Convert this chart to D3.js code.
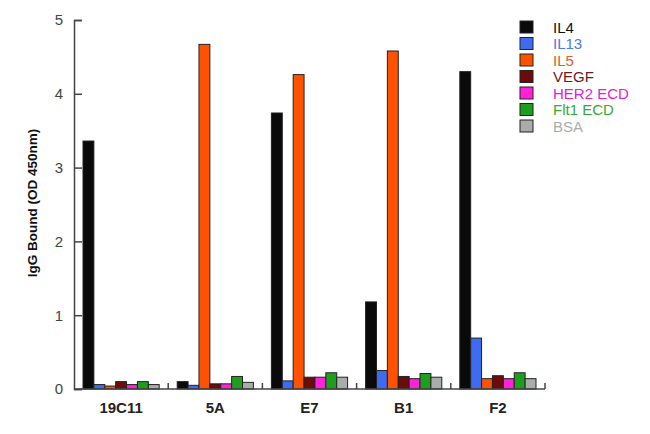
<!DOCTYPE html>
<html>
<head>
<meta charset="utf-8">
<script src="https://cdn.jsdelivr.net/npm/d3@7"></script>
<style>
  body { margin: 0; background: #fff; }
  svg { font-family: Arial, "Liberation Sans", sans-serif; }
</style>
</head>
<body>
<div id="container"></div>
<script>
const clones = ["19C11", "5A", "E7", "B1", "F2"];
const antigens = ["IL4", "IL13", "IL5", "VEGF", "HER2 ECD", "Flt1 ECD", "BSA"];
const barColors = ["#0a0a0a", "#3d6cf0", "#ff5200", "#6e0a0a", "#ff22d8", "#1e9e1e", "#a8acac"];
const textColors = ["#111111", "#4a7ee0", "#d0652a", "#6e1a1a", "#e022d6", "#36a836", "#a9adad"];
const yTicks = [0, 1, 2, 3, 4, 5];

// OD 450nm per clone, one array per antigen
const il4 = [3.36, 0.10, 3.74, 1.18, 4.30];
const il13 = [0.06, 0.05, 0.11, 0.25, 0.69];
const il5 = [0.04, 4.67, 4.26, 4.58, 0.14];
const vegf = [0.10, 0.07, 0.16, 0.17, 0.18];
const her2 = [0.06, 0.07, 0.16, 0.14, 0.14];
const flt1 = [0.10, 0.17, 0.22, 0.21, 0.22];
const bsa = [0.06, 0.09, 0.16, 0.16, 0.14];
const series = [il4, il13, il5, vegf, her2, flt1, bsa];

const margin = { top: 20, left: 74 };
const width = 650;
const height = 434;
const innerW = 545 - margin.left;
const innerH = 389 - margin.top;

const svg = d3
  .select("#container")
  .append("svg")
  .attr("width", width)
  .attr("height", height);

const g = svg.append("g").attr("transform", `translate(${margin.left},${margin.top})`);

const x0 = d3.scaleBand().domain(clones).range([0, innerW]).padding(0);
const x1 = d3.scaleBand().domain(antigens).range([9, x0.bandwidth() - 9]).padding(0);
const y = d3.scaleLinear().domain([0, 5]).range([innerH, 0]);

const rows = clones.map((c, i) => ({
  clone: c,
  values: antigens.map((a, j) => ({ key: a, j, value: series[j][i] })),
}));

g.selectAll("g.group")
  .data(rows)
  .join("g")
  .attr("class", "group")
  .attr("transform", (d) => `translate(${x0(d.clone)},0)`)
  .selectAll("rect")
  .data((d) => d.values)
  .join("rect")
  .attr("x", (d) => x1(d.key))
  .attr("y", (d) => y(d.value))
  .attr("width", x1.bandwidth())
  .attr("height", (d) => innerH - y(d.value))
  .attr("fill", (d) => barColors[d.j])
  .attr("stroke", "#222")
  .attr("stroke-width", 1);

// y axis with inward ticks
const yAxis = g.append("g")
  .call(d3.axisLeft(y).tickValues(yTicks).tickSize(-8).tickPadding(11).tickFormat(d3.format("d")));
yAxis.select(".domain").attr("stroke", "#444").attr("stroke-width", 1.5);
yAxis.selectAll(".tick line").attr("stroke", "#444").attr("stroke-width", 1.5);
yAxis.selectAll(".tick text").attr("font-size", 15).attr("fill", "#444").attr("font-family", "Arial, sans-serif");

// x axis baseline with upward separator ticks
const xAxis = g.append("g").attr("transform", `translate(0,${innerH})`);
xAxis.append("line").attr("x1", 0).attr("x2", innerW).attr("stroke", "#444").attr("stroke-width", 1.5);
xAxis.selectAll("line.sep")
  .data(clones.slice(1).concat(["end"]))
  .join("line")
  .attr("class", "sep")
  .attr("x1", (d, i) => x0.step() * (i + 1))
  .attr("x2", (d, i) => x0.step() * (i + 1))
  .attr("y1", 0)
  .attr("y2", -6)
  .attr("stroke", "#444")
  .attr("stroke-width", 1.5);
xAxis.selectAll("text")
  .data(clones)
  .join("text")
  .attr("x", (d) => x0(d) + x0.bandwidth() / 2)
  .attr("y", 24)
  .attr("text-anchor", "middle")
  .attr("font-size", 15)
  .attr("font-weight", "bold")
  .attr("fill", "#222")
  .text((d) => d);

svg.append("text")
  .attr("transform", `translate(37,203) rotate(-90)`)
  .attr("text-anchor", "middle")
  .attr("font-size", 13.5)
  .attr("font-weight", "bold")
  .attr("fill", "#111")
  .text("IgG Bound (OD 450nm)");

// legend
const legend = svg.append("g").attr("transform", "translate(520,21)");
const item = legend.selectAll("g")
  .data(antigens)
  .join("g")
  .attr("transform", (d, i) => `translate(0,${i * 16.5})`);
item.append("rect")
  .attr("width", 13)
  .attr("height", 12)
  .attr("fill", (d, i) => barColors[i])
  .attr("stroke", "#222");
item.append("text")
  .attr("x", 33)
  .attr("y", 11.5)
  .attr("font-size", 15)
  .attr("fill", (d, i) => textColors[i])
  .text((d) => d);
</script>
</body>
</html>
